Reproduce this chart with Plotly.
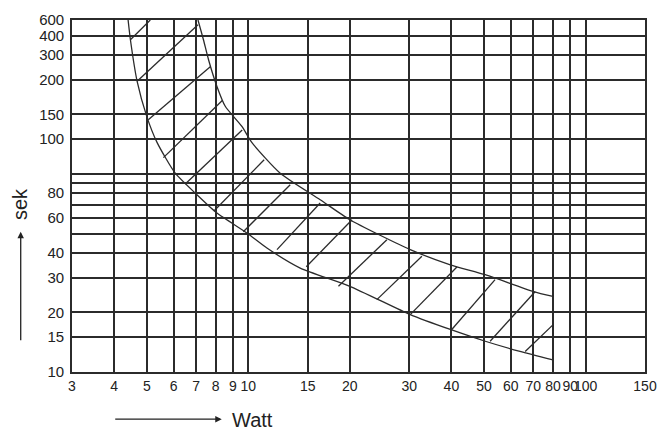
import plotly.graph_objects as go

# ---- data (Watt, sek) ----
lower_watt = [4.4, 4.47, 4.68, 5.0, 5.36, 6.07, 7.04, 8.07, 9.9, 11.35, 14.25, 20.0, 30.2, 39.7, 50.4, 63.9, 80.0]
lower_sek = [600, 477, 294, 195, 144.5, 101, 78.6, 63.5, 50.4, 42.3, 33.5, 27.1, 19.5, 16.4, 14.3, 12.7, 11.5]

upper_watt = [7.09, 7.36, 7.62, 8.07, 8.54, 9.57, 10.25, 12.43, 16.33, 20.0, 30.2, 39.7, 50.4, 70.0, 80.0]
upper_sek = [600, 477, 378, 277, 220, 174, 144, 101, 74.2, 58.8, 41.5, 34.8, 31.0, 25.5, 24.1]

hatch_watt_start = [4.47, 4.68, 5.05, 5.6, 6.5, 7.92, 9.66, 12.16, 14.85, 18.5, 24.05, 30.2, 40.1, 52.1, 66.2]
hatch_sek_start = [477, 294, 188, 121, 89, 65.3, 51.1, 41.5, 34, 27.1, 23.2, 19.5, 16.4, 14.3, 12.7]
hatch_watt_end = [5.12, 7.09, 7.71, 8.37, 9.59, 11.14, 13.31, 16.33, 20.3, 25.75, 32.7, 41.6, 53.9, 70.9, 80]
hatch_sek_end = [600, 568, 348, 235, 167, 118, 88.3, 71.4, 58.8, 46.6, 38.4, 34, 29.3, 25.5, 17.3]

x_ticks = [3, 4, 5, 6, 7, 8, 9, 10, 15, 20, 30, 40, 50, 60, 70, 80, 90, 100, 150]
x_labels = [str(v) for v in x_ticks]

y_grid = [10, 15, 20, 30, 40, 50, 60, 70, 80, 90, 100, 150, 200, 300, 400, 500, 600]
y_labels = ["10", "15", "20", "30", "40", "", "60", "", "80", "", "", "100", "150", "200", "300", "400", "600"]

ink = "#2b2b2b"

fig = go.Figure()

# hatch segments
hx, hy = [], []
for a, b, c, d in zip(hatch_watt_start, hatch_sek_start, hatch_watt_end, hatch_sek_end):
    hx += [a, c, None]
    hy += [b, d, None]
fig.add_trace(go.Scatter(x=hx, y=hy, mode="lines", line=dict(color=ink, width=1.3),
                         hoverinfo="skip", showlegend=False))

fig.add_trace(go.Scatter(x=lower_watt, y=lower_sek, mode="lines",
                         line=dict(color=ink, width=1.3, shape="spline", smoothing=0.6),
                         showlegend=False))
fig.add_trace(go.Scatter(x=upper_watt, y=upper_sek, mode="lines",
                         line=dict(color=ink, width=1.3, shape="spline", smoothing=0.6),
                         showlegend=False))

x_font = dict(family="Liberation Sans, Arial, sans-serif", size=14, color="#222")
y_font = dict(family="Liberation Sans, Arial, sans-serif", size=15, color="#222")

fig.update_xaxes(type="log", range=[0.477121, 2.176092], tickmode="array",
                 tickvals=x_ticks, ticktext=x_labels, tickangle=0, automargin=False,
                 ticklabeloverflow="allow",
                 showgrid=True, gridcolor=ink,
                 gridwidth=1.6, showline=True, mirror=True, linecolor=ink, linewidth=1.6,
                 ticks="", tickfont=x_font, zeroline=False)
fig.update_yaxes(type="log", range=[1, 2.778152], tickmode="array",
                 tickvals=y_grid, ticktext=y_labels, automargin=False,
                 ticklabeloverflow="allow",
                 showgrid=True, gridcolor=ink,
                 gridwidth=1.6, showline=True, mirror=True, linecolor=ink, linewidth=1.6,
                 ticks="", tickfont=y_font, zeroline=False, ticklabelstandoff=3)

fig.add_annotation(xref="paper", yref="paper", x=0.2613, y=-0.134, ax=-108, ay=0,
                   text="", showarrow=True, arrowhead=2, arrowsize=1, arrowwidth=1.3,
                   arrowcolor="#222")
fig.add_annotation(xref="paper", yref="paper", x=0.2757, y=-0.136, xanchor="left",
                   yanchor="middle", text="Watt", showarrow=False,
                   font=dict(family="Liberation Sans, Arial, sans-serif", size=20, color="#222"))
fig.add_annotation(xref="paper", yref="paper", x=-0.0895, y=0.3986, ax=0, ay=110,
                   text="", showarrow=True, arrowhead=2, arrowsize=1, arrowwidth=1.3,
                   arrowcolor="#222")
fig.add_annotation(xref="paper", yref="paper", x=-0.0908, y=0.477, textangle=-90,
                   xanchor="center", yanchor="middle", text="sek", showarrow=False,
                   font=dict(family="Liberation Sans, Arial, sans-serif", size=20, color="#222"))

fig.update_layout(width=657, height=430, margin=dict(l=72, r=12, t=20, b=58),
                  paper_bgcolor="white", plot_bgcolor="white", showlegend=False)

# remove the default 8px page margin so the figure fills the window exactly
fig.write_html("out.html", config={"displayModeBar": False},
               post_script="document.body.style.margin='0';document.body.style.overflow='hidden';")
